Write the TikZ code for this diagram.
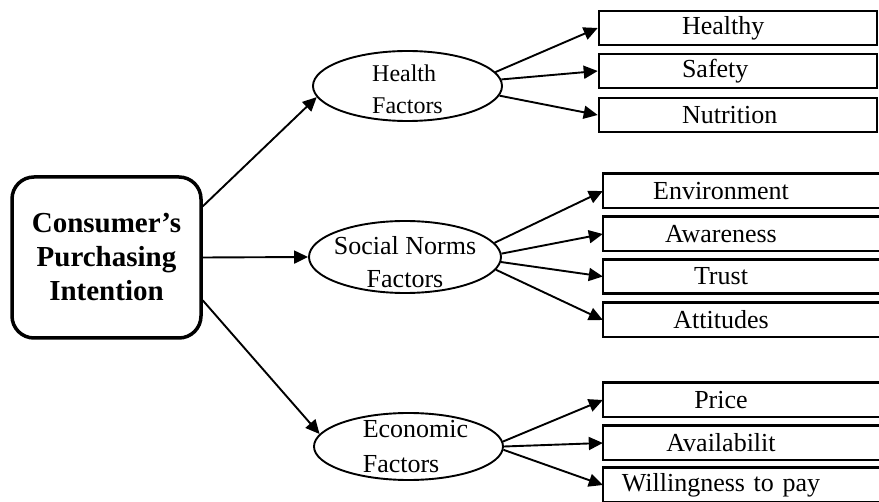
\documentclass[tikz,border=0pt]{standalone}
\usepackage{fontspec}
\setmainfont{Liberation Serif}
\usetikzlibrary{shapes.geometric,arrows.meta}

\begin{document}
\begin{tikzpicture}[x=1pt,y=-1pt,
  link/.style={line width=1.9pt,-{Triangle[length=14pt,width=13pt]}},
  factor/.style={draw,ellipse,line width=1.9pt,inner sep=0pt},
  itembox/.style={draw,line width=2.6pt,minimum height=34pt,inner ysep=0pt,
    text width=112pt,inner xsep=83pt,align=left,font=\fontsize{26}{30}\selectfont},
  itemtext/.style={minimum height=34pt,inner sep=0pt,text width=236pt,
    align=center,font=\fontsize{26}{30}\selectfont},
  frame/.style={line width=2.6pt}]
  \useasboundingbox (0,0) rectangle (879,502);
  % main construct
  \node[draw,line width=3.5pt,rounded corners=22pt,minimum width=189pt,minimum height=161pt,
    align=center,font=\bfseries\fontsize{29}{34}\selectfont] (intent) at (106.5,257.5)
    {Consumer's\\Purchasing\\Intention};
  % factor groups
  \node[factor,minimum width=189pt,minimum height=70pt,
    label={[align=left,font=\fontsize{24}{32}\selectfont,yshift=-3pt]center:{Health\\Factors}}]
    (health) at (407.5,86) {};
  \node[factor,minimum width=192pt,minimum height=72pt,
    label={[align=center,font=\fontsize{26}{33}\selectfont,yshift=-5pt]center:{Social Norms\\Factors}}]
    (social) at (405,257) {};
  \node[factor,minimum width=189pt,minimum height=67pt,
    label={[align=left,font=\fontsize{26}{35}\selectfont,xshift=7pt]center:{Economic\\Factors}}]
    (econ) at (408.5,446.5) {};
  % items
  \node[itembox] (healthy) at (738,28) {Healthy};
  \node[itembox] (safety) at (738,71) {Safety};
  \node[itembox] (nutri) at (738,115) {Nutrition};
  \node[itemtext] (env) at (721,191) {Environment};
  \node[itemtext] (aware) at (721,234) {Awareness};
  \node[itemtext] (trust) at (721,276.5) {Trust};
  \node[itemtext] (attit) at (721,320) {Attitudes};
  \node[itemtext] (price) at (721,400) {Price};
  \node[itemtext] (avail) at (721,443) {Availabilit};
  \node[itemtext] (willing) at (721,485) {Willingness to pay};
  \coordinate (rim) at (905,0);
  \foreach \b in {env,aware,trust,attit,price,avail,willing}
    \draw[frame] (\b.north west) rectangle (\b.south west -| rim);
  % arrows
  \draw[link] (intent.28) -- (health.187);
  \draw[link] (intent.east) -- (social.west);
  \draw[link] (intent.-24) -- (econ.172);
  \draw[link] (health.9) -- (healthy.west);
  \draw[link] (health.4) -- (safety.west);
  \draw[link] (health.-6) -- (nutri.west);
  \draw[link] (social.9) -- (env.west);
  \draw[link] (social.2) -- (aware.west);
  \draw[link] (social.-3) -- (trust.west);
  \draw[link] (social.-8) -- (attit.west);
  \draw[link] (econ.3) -- (price.west);
  \draw[link] (econ.0) -- (avail.west);
  \draw[link] (econ.-2) -- (willing.west);
\end{tikzpicture}
\end{document}
